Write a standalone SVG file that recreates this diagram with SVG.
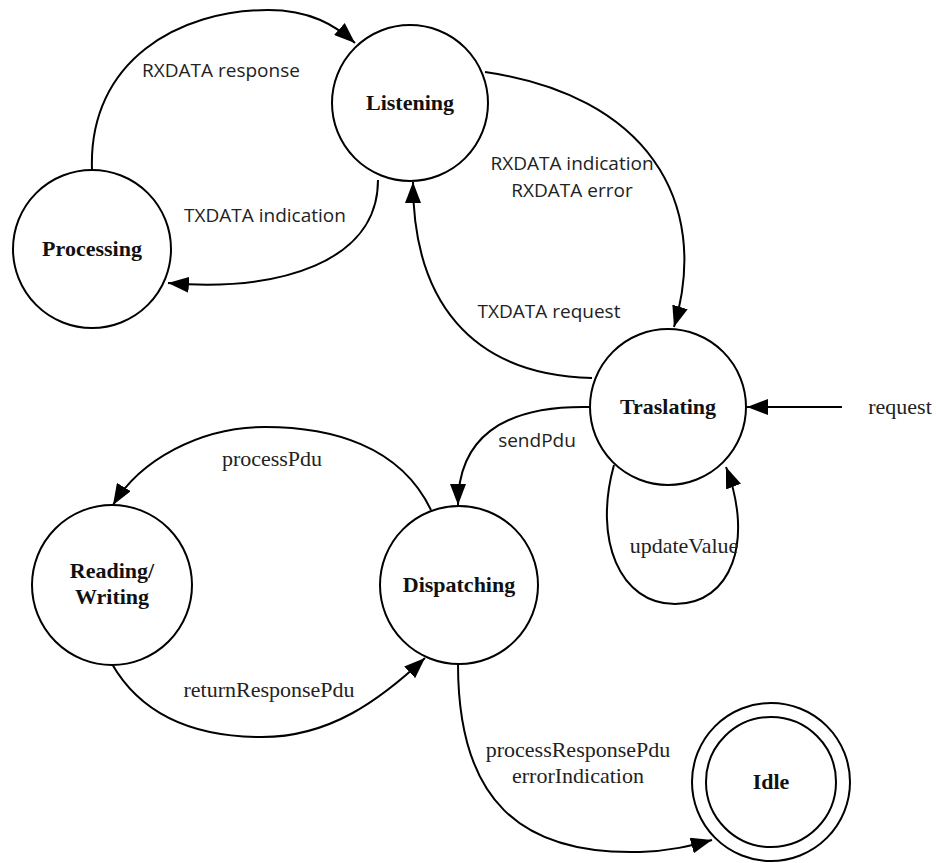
<svg xmlns="http://www.w3.org/2000/svg" width="936" height="863" viewBox="0 0 936 863">
<style>
.st{fill:#fff;stroke:#000;stroke-width:2}
.nm{font-family:"Liberation Serif","Times New Roman",serif;font-weight:bold;font-size:22px;fill:#111;text-anchor:middle}
.sl{font-family:"Open Sans","Noto Sans",sans-serif;font-size:19px;fill:#222;text-anchor:middle}
.rl{font-family:"Liberation Serif","Times New Roman",serif;font-size:22px;fill:#222;text-anchor:middle}
.e{fill:none;stroke:#000;stroke-width:2;marker-end:url(#ah)}
</style>
<defs>
<marker id="ah" viewBox="0 0 21 16" refX="21" refY="8" markerWidth="21" markerHeight="16" markerUnits="userSpaceOnUse" orient="auto">
<path d="M0,0 L21,8 L0,16 z" fill="#000"/>
</marker>
</defs>
<rect width="936" height="863" fill="#fff"/>
<g id="connectors">
<path class="e" d="M92,170 C88,60 180,10 268,10 C310,10 335,25 355,43"/>
<path class="e" d="M378,180 C378,262 280,292 168,283"/>
<path class="e" d="M485,72 C645,95 712,200 674,327"/>
<path class="e" d="M592,378 C470,375 413,300 413,182"/>
<path class="e" d="M590,407 C500,405 458,440 458,505"/>
<path class="e" d="M431,510 C400,445 330,427 265,427 C200,427 140,460 113,505"/>
<path class="e" d="M112,664 C150,730 220,737 262,737 C330,737 380,700 425,658"/>
<path class="e" d="M458,664 C458,800 520,855 640,852 C670,851 690,846 712,840"/>
<path class="e" d="M614,465 C593,540 620,604 675,604 C732,604 754,540 726,467"/>
<path class="e" d="M842,407 L747,407"/>
</g>
<g id="labels">
<text class="sl" x="221" y="77">RXDATA response</text>
<text class="sl" x="265" y="222">TXDATA indication</text>
<text class="sl" x="572" y="170">RXDATA indication</text>
<text class="sl" x="572" y="197">RXDATA error</text>
<text class="sl" x="549" y="318">TXDATA request</text>
<text class="sl" x="537" y="447">sendPdu</text>
<text class="rl" x="272" y="466">processPdu</text>
<text class="rl" x="269" y="697">returnResponsePdu</text>
<text class="rl" x="578" y="757">processResponsePdu</text>
<text class="rl" x="578" y="783">errorIndication</text>
<text class="rl" x="684" y="553">updateValue</text>
<text class="rl" x="900" y="414">request</text>
</g>
<g id="listening"><circle class="st" cx="410" cy="103" r="78"/><text class="nm" x="410" y="110">Listening</text></g>
<g id="processing"><circle class="st" cx="92" cy="249" r="79"/><text class="nm" x="92" y="256">Processing</text></g>
<g id="traslating"><circle class="st" cx="668" cy="407" r="78"/><text class="nm" x="668" y="414">Traslating</text></g>
<g id="dispatching"><circle class="st" cx="459" cy="585" r="79"/><text class="nm" x="459" y="592">Dispatching</text></g>
<g id="readingwriting"><circle class="st" cx="112" cy="585" r="80"/><text class="nm" x="112" y="578">Reading/</text><text class="nm" x="112" y="604">Writing</text></g>
<g id="idle"><circle class="st" cx="771" cy="782" r="79"/><circle class="st" cx="771" cy="782" r="65"/><text class="nm" x="771" y="789">Idle</text></g>
</svg>
